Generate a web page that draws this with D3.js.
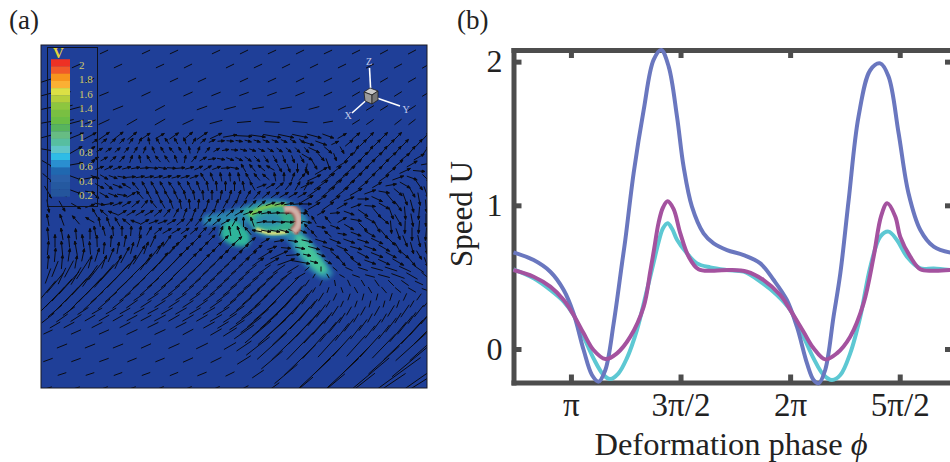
<!DOCTYPE html>
<html>
<head>
<meta charset="utf-8">
<script src="https://cdn.jsdelivr.net/npm/d3@7"></script>
<style>
  html, body { margin: 0; padding: 0; background: #fff; overflow: hidden; }
  text { font-family: "Liberation Serif", serif; }
</style>
</head>
<body>
<svg id="chart" width="950" height="462"></svg>
<script>
// Panel (b) values, phase in units of pi
const bluePhi = [0.738,0.830,0.906,0.967,1.012,1.058,1.096,1.126,1.157,1.195,1.233,1.248,1.286,1.332,1.377,1.412,1.446,1.484,1.514,1.552,1.605,1.651,1.712,1.788,1.864,1.925,1.985,2.031,2.077,2.107,2.130,2.160,2.198,2.229,2.267,2.312,2.366,2.411,2.449,2.495,2.540,2.594,2.655,2.731];
const blueU = [0.673,0.619,0.538,0.411,0.248,-0.007,-0.181,-0.227,-0.146,0.179,0.596,0.759,1.223,1.664,2.012,2.081,1.965,1.617,1.269,0.991,0.805,0.735,0.689,0.654,0.596,0.480,0.341,0.155,-0.100,-0.216,-0.239,-0.146,0.225,0.527,1.037,1.617,1.942,1.988,1.896,1.501,1.084,0.828,0.712,0.671];
const cyanPhi = [0.738,0.830,0.906,0.967,1.012,1.058,1.103,1.149,1.179,1.217,1.255,1.301,1.347,1.377,1.400,1.420,1.441,1.462,1.484,1.529,1.575,1.636,1.712,1.788,1.864,1.940,2.001,2.061,2.107,2.153,2.191,2.229,2.274,2.320,2.366,2.411,2.449,2.487,2.533,2.594,2.655,2.731];
const cyanU = [0.554,0.492,0.411,0.330,0.237,0.086,-0.065,-0.181,-0.209,-0.169,-0.065,0.132,0.411,0.600,0.745,0.840,0.875,0.835,0.760,0.666,0.596,0.568,0.550,0.538,0.469,0.376,0.271,0.086,-0.065,-0.181,-0.216,-0.181,-0.030,0.225,0.573,0.781,0.817,0.759,0.643,0.561,0.561,0.550];
const purplePhi = [0.738,0.830,0.906,0.967,1.012,1.058,1.103,1.157,1.210,1.271,1.332,1.362,1.380,1.400,1.420,1.441,1.468,1.499,1.537,1.582,1.651,1.727,1.803,1.879,1.955,2.001,2.061,2.107,2.160,2.213,2.274,2.335,2.381,2.415,2.443,2.480,2.502,2.548,2.594,2.655,2.731];
const purpleU = [0.550,0.503,0.434,0.341,0.237,0.109,-0.007,-0.070,-0.030,0.086,0.295,0.540,0.700,0.880,0.985,1.028,0.975,0.805,0.643,0.555,0.545,0.550,0.538,0.480,0.376,0.271,0.120,0.005,-0.072,-0.030,0.086,0.318,0.643,0.925,1.014,0.921,0.782,0.643,0.555,0.545,0.550];
const phiTicks = [1, 1.5, 2, 2.5];
const phiLabels = ["\u03c0", "3\u03c0/2", "2\u03c0", "5\u03c0/2"];
const speedTicks = [0, 1, 2];

// Panel (a) legend
const legendTicks = [2, 1.8, 1.6, 1.4, 1.2, 1, 0.8, 0.6, 0.4, 0.2];
const legendBands = [2.0, 1.9, 1.8, 1.7, 1.6, 1.5, 1.4, 1.3, 1.2, 1.1, 1.0, 0.9, 0.8, 0.7, 0.6, 0.5, 0.4, 0.3, 0.2];
const legendColors = ["#ee3124","#f15a29","#f7941d","#fbb034","#dce045","#b5cf3b","#8dc63f","#79bf42","#6abd45","#57b45e","#67bc83","#57bea0","#60c5c8","#2fbce6","#2a8fd0","#2068b0","#2a5fa8","#2559a0","#24559c"];

// Panel (a) coarse arrow field, one row per 14 px: angle in degrees, length in px
const fieldAngle = [
[24,24,24,24,25,25,25,25,25,25,26,26,25,25,26,26,25,25,26,26,25,25,26,28,28,28,28,28],
[20,20,24,24,25,25,25,25,25,26,26,25,25,26,26,25,25,26,26,26,26,26,28,28,28,28,30,30],
[18,18,20,22,24,25,25,25,25,25,26,25,25,25,25,25,25,25,26,26,26,28,28,28,30,30,30,32],
[15,15,16,20,22,24,25,25,25,25,24,22,22,22,20,20,20,22,22,24,25,28,30,30,30,32,32,32],
[12,15,15,18,20,22,25,28,28,25,22,20,18,15,12,10,10,10,12,15,20,28,32,32,32,34,34,36],
[10,12,15,20,25,30,30,30,30,28,25,22,15,10,5,0,-3,-5,-5,-2,10,25,32,35,35,38,38,40],
[15,18,22,28,35,38,40,35,30,35,40,35,25,10,-3,-8,-10,-12,-12,-15,-20,30,40,45,45,45,45,48],
[-10,25,30,35,40,45,60,110,120,110,70,40,20,-5,-10,-12,-15,-15,-18,-25,-40,-60,60,55,50,50,50,55],
[-30,-20,10,40,40,60,110,120,125,80,40,20,5,-12,-15,-20,-25,-30,-40,-60,-70,30,40,42,45,40,30,10],
[-40,-30,-20,10,30,30,20,5,10,15,25,20,-10,-20,120,130,-60,-80,-90,25,35,38,40,42,35,20,-20,-45],
[-60,-45,-20,-10,-30,-10,10,12,15,15,120,100,95,100,120,20,40,50,30,35,38,38,30,20,-10,-40,-60,-70],
[-80,-60,-30,20,140,120,120,115,100,90,80,70,60,50,40,30,25,20,15,30,35,30,20,-5,-30,-55,-75,-85],
[100,110,130,150,30,30,40,60,70,60,45,30,20,10,0,-10,-15,-20,-30,120,130,30,-10,-30,-40,-60,-80,-90],
[95,100,95,90,85,60,35,35,45,50,70,110,170,-10,-15,-20,-30,-45,-60,130,140,-10,-20,-30,-50,-70,-90,-95],
[85,95,100,95,85,80,75,70,60,50,45,45,45,45,40,35,20,-5,-10,-15,-20,-25,-15,-20,-30,-60,-75,-80],
[85,85,80,75,70,65,60,55,50,47,45,45,42,42,40,35,30,20,-10,-15,-30,-50,-35,-20,-25,-30,-50,-70],
[70,65,60,55,50,47,45,45,45,45,42,42,40,40,38,36,36,35,30,60,120,-30,-20,-15,-15,-20,-30,-40],
[50,48,47,46,45,44,42,40,38,38,38,38,38,38,38,40,42,45,50,60,70,-70,-60,-60,-50,-40,-30,-20],
[45,45,45,42,40,38,35,33,33,33,33,35,35,38,40,42,45,48,52,55,60,65,70,75,75,70,60,50],
[38,35,33,30,30,30,28,28,28,30,30,30,30,33,36,40,42,45,48,52,55,58,60,62,60,58,55,50],
[25,24,24,24,24,25,25,25,25,25,28,28,30,32,35,40,42,44,46,48,50,52,52,52,52,50,48,45],
[22,22,22,22,22,22,24,24,24,24,26,26,28,30,34,38,42,44,46,48,48,48,48,48,46,44,42,42],
[20,20,20,20,20,22,22,22,22,22,24,24,26,28,32,36,40,42,44,45,45,45,45,44,42,40,40,38],
[18,18,18,18,20,20,20,20,20,22,22,22,24,26,30,34,38,40,42,43,43,43,42,40,38,36,36,35],
[16,16,16,18,18,18,18,20,20,20,20,22,22,24,28,32,36,38,40,40,40,40,38,36,34,32,32,30]
];
const fieldLength = [
[0,0,0,0,9,0,0,9,0,9,0,0,9,0,9,0,9,0,9,0,9,0,9,0,9,0,9,0],
[0,0,9,0,0,9,0,0,9,0,9,0,0,9,0,9,0,9,0,9,0,9,0,9,0,9,0,9],
[20,0,0,9,0,0,9,0,0,9,0,9,0,0,9,0,9,0,9,0,9,0,9,0,9,0,9,0],
[24,18,0,0,10,0,0,10,0,0,10,0,10,0,10,0,10,0,10,0,9,0,9,9,0,9,0,9],
[26,22,14,0,0,11,0,0,11,0,0,11,0,12,0,12,0,12,0,11,0,9,0,9,9,0,9,0],
[26,24,16,12,12,0,12,0,12,0,12,0,13,0,14,0,15,0,15,0,10,0,9,9,0,9,9,0],
[20,20,16,14,13,13,12,10,10,11,12,13,13,14,16,15,18,16,16,15,12,10,10,10,10,10,0,10],
[14,16,14,12,0,0,0,0,0,0,0,0,0,0,0,0,0,0,0,12,10,8,10,10,10,10,10,10],
[14,14,14,13,0,0,0,0,0,0,0,0,0,0,0,0,0,0,0,12,12,13,14,14,14,13,12,10],
[14,14,13,12,0,0,0,0,0,0,0,0,0,0,0,0,0,0,0,15,16,16,16,14,12,12,11,10],
[14,13,12,10,0,0,0,0,0,0,0,0,0,0,0,0,0,0,0,16,17,16,14,12,11,11,12,12],
[13,12,11,10,0,0,0,0,0,0,0,0,0,0,0,0,0,0,0,14,14,12,11,11,12,12,13,13],
[12,12,11,10,0,0,0,0,0,0,0,0,0,0,0,0,0,0,0,9,9,10,11,12,12,13,13,13],
[13,12,11,11,0,0,0,0,0,0,0,0,0,0,0,0,0,0,0,9,9,9,11,12,12,12,13,13],
[14,14,14,13,12,12,12,13,14,15,16,18,16,14,12,10,10,10,10,12,12,12,12,13,13,12,12,12],
[14,14,13,13,14,15,16,20,24,24,24,22,18,16,14,14,16,18,20,8,8,10,12,12,13,13,10,10],
[16,18,20,26,30,32,32,30,30,28,20,18,16,16,14,14,14,14,12,5,5,6,8,10,12,14,13,12],
[24,30,32,34,32,26,20,16,15,15,15,15,16,18,18,20,22,22,14,6,6,6,7,7,8,8,9,9],
[26,30,24,18,16,14,14,13,13,13,13,14,15,16,20,26,30,30,26,12,8,7,7,7,7,8,8,8],
[16,14,13,12,12,12,12,12,13,13,13,13,14,16,20,28,32,34,30,20,14,12,10,10,10,12,14,16],
[10,0,11,0,11,0,12,0,12,0,12,0,13,16,24,34,38,38,34,30,26,22,18,16,18,26,32,34],
[0,11,0,11,0,11,0,11,0,12,0,13,0,14,18,30,40,40,38,34,30,28,28,30,34,40,44,44],
[10,0,10,0,10,0,10,0,10,0,11,0,12,0,16,0,28,0,44,0,40,0,38,0,42,0,52,0],
[0,9,0,9,0,9,0,9,0,9,0,10,0,10,0,14,0,30,0,46,0,46,0,50,0,56,0,60],
[8,0,8,0,8,0,8,0,8,0,8,0,8,0,10,0,18,0,34,0,44,0,48,0,52,0,56,0]
];
// Lower band, read between the coarse rows
const lowerAngle = [
[90,95,98,92,85,80,72,65,55,47,45,45,45,42,38,30,10,-8,-12,-18,-22,-20,-18,-25,-45,-68,-78],
[85,82,78,72,68,62,58,52,48,46,44,44,42,41,38,32,25,5,-12,-22,-40,-42,-28,-22,-28,-40,-60],
[68,62,57,52,48,46,45,45,45,43,42,41,40,39,37,36,35,32,40,90,-40,-25,-18,-15,-18,-25,-35],
[50,48,47,46,45,43,41,39,38,38,38,38,38,38,38,40,42,46,55,65,-80,-65,-60,-55,-45,-35,-25],
[46,46,44,41,39,36,34,33,33,33,34,35,36,39,41,43,46,50,54,58,64,70,75,75,72,65,55],
[40,36,33,30,30,29,28,28,29,30,30,30,32,35,38,41,44,47,50,54,57,60,61,61,59,56,52],
[30,28,27,27,27,27,26,26,27,27,28,29,31,33,37,41,43,45,47,49,51,53,54,54,53,51,48]
];
const lowerLength = [
[13,13,13,12,12,12,13,13,14,16,17,17,15,13,11,10,10,10,11,12,12,12,12,13,12,12,12],
[14,13,13,14,15,18,22,24,24,23,20,17,15,14,14,17,19,14,8,9,11,12,13,13,12,10,10],
[17,19,24,28,32,32,31,30,28,22,18,17,16,15,14,14,15,13,6,5,6,8,10,12,13,13,12],
[26,30,33,33,28,22,17,15,15,15,15,15,16,17,19,21,22,18,8,6,6,7,7,8,8,9,9],
[28,27,21,17,15,14,13,13,13,13,13,14,16,18,23,28,30,28,18,10,8,7,7,7,8,8,8],
[18,15,13,12,12,12,12,12,13,13,13,14,15,18,24,30,33,32,26,16,12,10,10,11,13,15,15],
[12,12,0,12,0,12,0,12,0,12,0,13,13,18,26,34,36,35,32,26,20,16,14,14,18,24,28]
];
// Right of the bubble, read between the coarse rows
const rightAngle = [
[-18,-20,25,40,45,45,46,46,48],
[-30,-50,-70,45,45,42,42,38,30],
[-70,30,38,40,42,42,38,25,-5],
[25,35,38,40,38,30,10,-30,-55],
[30,33,32,22,0,-25,-50,-70,-80],
[120,30,5,-20,-35,-50,-70,-85,-95],
[130,-10,-20,-30,-45,-60,-85,-92,-95]
];
const rightLength = [
[14,12,8,10,10,10,10,10,10],
[12,10,8,12,14,14,14,12,12],
[8,14,16,16,15,14,12,12,12],
[14,17,17,15,13,11,11,12,12],
[14,13,12,11,11,12,13,13,13],
[8,9,10,11,12,12,13,13,13],
[8,9,10,11,12,12,13,13,13]
];
// Finer table for the swirl left of the bubble, one row per 9 px
const swirlAngle = [
[35,38,40,45,55,65,100,120,125,120,110,60,40,25,5,-5,-10,-15,-18,-20,-22,-25,-30,-35],
[30,35,40,50,60,70,110,120,130,120,100,70,50,30,10,-5,-15,-20,-25,-30,-35,-40,-45,-50],
[25,30,40,50,70,100,120,130,125,110,80,50,30,10,-10,-20,-25,-35,-45,-55,-60,-70,-70,-60],
[20,25,20,15,10,5,-5,-10,-5,5,15,25,30,20,5,-10,120,130,140,150,-60,-70,-90,-100],
[-20,-30,-20,-10,5,10,10,12,15,15,15,20,120,110,100,95,100,120,130,140,100,90,70,50],
[-30,-40,-20,150,130,120,120,120,125,120,115,110,100,95,90,90,100,120,20,30,40,50,60,60],
[-40,-30,-20,-10,30,130,120,115,120,115,105,100,95,90,80,75,70,60,50,40,35,30,30,30],
[-10,10,20,30,40,50,130,120,110,100,95,85,75,70,60,55,50,45,40,20,15,10,5,0],
[120,140,160,30,30,30,30,40,50,60,70,70,60,50,45,40,30,20,15,10,5,0,0,-5],
[100,110,120,140,160,30,20,20,30,40,50,50,45,40,30,60,90,110,10,0,-5,-5,-10,-10],
[100,105,95,90,85,80,60,40,30,30,35,40,45,50,70,100,110,130,170,-10,-10,-15,-20,-25]
];
const swirlLength = [7, 7, 8, 9, 9, 10, 10, 10, 10, 10, 10];

// Speed patches around the bubble, in page px of the panel
const jetOutline = [[203,217],[225,212],[245,206],[262,200],[284,200],[300,208],[308,222],[303,232],[310,240],[318,250],[326,262],[333,274],[324,279],[310,270],[296,254],[286,239],[270,238],[256,234],[248,225],[238,222],[222,224],[204,225]];
const jetCore = [[243,211],[262,206],[282,206],[296,212],[301,222],[294,232],[282,233],[265,232],[254,228],[250,220]];
const tailCore = [[296,234],[305,238],[316,252],[327,270],[322,274],[308,262],[298,248]];
const leftBlob = [[224,224],[236,221],[250,235],[248,245],[232,245],[221,236]];
const ringHole = [[255,219],[263,214],[275,213],[282,218],[281,224],[268,227],[258,225]];
const ringTop = [[250,215],[262,208],[275,205],[286,205]];
const ringBottom = [[256,229],[270,233],[287,232]];
const bubble = [[284,209],[292,209],[298,216],[298,226],[293,232]];

// Orientation triad
const triadAxes = [
  {name: "Z", to: [369.5, 68], label: [369, 61]},
  {name: "Y", to: [400, 106], label: [406, 109]},
  {name: "X", to: [352, 113], label: [348, 115]}
];
const cubeFaces = [
  {pts: [[364,92],[370,88],[378,91],[372,95]], fill: "#c9c9c9"},
  {pts: [[364,92],[372,95],[372,104],[365,101]], fill: "#9a9a9a"},
  {pts: [[372,95],[378,91],[378,100],[372,104]], fill: "#777"}
];

const svg = d3.select("#chart");

// ---------- Panel (a) ----------
const panelA = {left: 41, right: 427, top: 45, bottom: 388};
svg.append("clipPath").attr("id", "clipA").append("rect")
    .attr("x", panelA.left).attr("y", panelA.top)
    .attr("width", panelA.right - panelA.left).attr("height", panelA.bottom - panelA.top);
svg.append("filter").attr("id", "soft").append("feGaussianBlur").attr("stdDeviation", 2);
svg.append("filter").attr("id", "softer").append("feGaussianBlur").attr("stdDeviation", 0.8);

const a = svg.append("g").attr("clip-path", "url(#clipA)");
a.append("rect")
    .attr("x", panelA.left).attr("y", panelA.top)
    .attr("width", panelA.right - panelA.left).attr("height", panelA.bottom - panelA.top)
    .attr("fill", "#1f3f98");

const closed = d3.line().curve(d3.curveCatmullRomClosed);
const open = d3.line().curve(d3.curveCatmullRom);
const patches = a.append("g").attr("filter", "url(#soft)");
patches.append("path").attr("d", closed(jetOutline)).attr("fill", "#2a86ae");
patches.append("path").attr("d", closed(jetCore)).attr("fill", "#35b08f");
patches.append("path").attr("d", closed(tailCore)).attr("fill", "#45c49a");
patches.append("path").attr("d", closed(leftBlob)).attr("fill", "#2fb59a");
patches.append("path").attr("d", closed(ringHole)).attr("fill", "#2f8fae");
const ring = a.append("g").attr("filter", "url(#softer)");
ring.append("path").attr("d", open(ringTop)).attr("fill", "none").attr("stroke", "#7ec850").attr("stroke-width", 4);
ring.append("path").attr("d", open(ringBottom)).attr("fill", "none").attr("stroke", "#dfe07a").attr("stroke-width", 3.5);

// arrows
const colX = d3.scalePoint().domain(d3.range(28)).range([48, 426]);
const rowY = d3.scalePoint().domain(d3.range(25)).range([52, 388]);
const lowerX = d3.scalePoint().domain(d3.range(27)).range([55, 419]);
const lowerY = d3.scalePoint().domain(d3.range(7)).range([241, 325]);
const rightX = d3.scalePoint().domain(d3.range(9)).range([307, 419]);
const rightY = d3.scalePoint().domain(d3.range(7)).range([143, 227]);
const swirlX = d3.scalePoint().domain(d3.range(24)).range([95, 302]);
const swirlY = d3.scalePoint().domain(d3.range(11)).range([141, 231]);

function arrowPath(cx, cy, deg, len, head) {
    const t = deg * Math.PI / 180, ux = Math.cos(t), uy = -Math.sin(t);
    const x0 = cx - ux * len / 2, y0 = cy - uy * len / 2, x1 = cx + ux * len / 2, y1 = cy + uy * len / 2;
    let d = `M${x0},${y0}L${x1},${y1}`;
    if (head) {
        const bx = x1 - ux * 3, by = y1 - uy * 3;
        d += `M${x1},${y1}L${bx - uy * 1.2},${by + ux * 1.2}L${bx + uy * 1.2},${by - ux * 1.2}Z`;
    }
    return d;
}

const arrows = [];
fieldAngle.forEach((row, j) => row.forEach((deg, i) => {
    const len = fieldLength[j][i];
    if (len > 0) arrows.push({x: colX(i), y: rowY(j), deg, len, head: j >= 6 && j <= 15});
}));
lowerAngle.forEach((row, j) => row.forEach((deg, i) => {
    const len = lowerLength[j][i];
    if (len > 0) arrows.push({x: lowerX(i), y: lowerY(j), deg, len, head: j < 2});
}));
rightAngle.forEach((row, j) => row.forEach((deg, i) => {
    arrows.push({x: rightX(i), y: rightY(j), deg, len: rightLength[j][i], head: true});
}));
swirlAngle.forEach((row, j) => row.forEach((deg, i) => {
    // every second row sits half a cell over
    arrows.push({x: swirlX(i) + (j % 2 ? 4.5 : 0), y: swirlY(j), deg, len: swirlLength[j], head: true});
}));

a.append("g").selectAll("path").data(arrows).enter().append("path")
    .attr("d", d => arrowPath(d.x, d.y, d.deg, d.len, d.head))
    .attr("fill", "#0b0b10")
    .attr("stroke", "#0b0b10")
    .attr("stroke-width", 1);

// bubble sits over the arrows
const bubbleG = a.append("g").attr("filter", "url(#softer)");
bubbleG.append("path").attr("d", open(bubble)).attr("fill", "none").attr("stroke", "#b5534a").attr("stroke-width", 9);
bubbleG.append("path").attr("d", open(bubble)).attr("fill", "none").attr("stroke", "#cfb0a8").attr("stroke-width", 5.5);

svg.append("rect")
    .attr("x", panelA.left).attr("y", panelA.top)
    .attr("width", panelA.right - panelA.left).attr("height", panelA.bottom - panelA.top)
    .attr("fill", "none").attr("stroke", "#1a1a22").attr("stroke-width", 1);

// legend
const legendY = d3.scaleLinear().domain([0.2, 2]).range([195, 65]);
const bandH = legendY(1.9) - legendY(2);
svg.append("rect").attr("x", 47.5).attr("y", 47.5).attr("width", 50).attr("height", 159)
    .attr("fill", "none").attr("stroke", "#10131f").attr("stroke-width", 1);
svg.append("g").selectAll("rect").data(legendBands).enter().append("rect")
    .attr("x", 51).attr("width", 19)
    .attr("y", d => legendY(d) - bandH * 0.8)
    .attr("height", bandH + 0.3)
    .attr("fill", (d, i) => legendColors[i]);
svg.append("g").selectAll("text").data(legendTicks).enter().append("text")
    .attr("x", 79).attr("y", d => legendY(d) + 4)
    .attr("fill", "#cfc96a").attr("font-size", 11)
    .text(d => d);
svg.append("text").attr("x", 53).attr("y", 58).attr("fill", "#e6d43c")
    .attr("font-size", 15).attr("font-weight", "bold").text("V");

// triad
const triad = svg.append("g");
triadAxes.forEach(ax => {
    triad.append("line").attr("x1", 371).attr("y1", 96).attr("x2", ax.to[0]).attr("y2", ax.to[1])
        .attr("stroke", "#fff").attr("stroke-width", 1.6);
    triad.append("text").attr("x", ax.label[0]).attr("y", ax.label[1]).attr("text-anchor", "middle")
        .attr("dy", "0.35em").attr("font-size", 10).attr("fill", "#c3cbea").text(ax.name);
});
triad.selectAll("polygon").data(cubeFaces).enter().append("polygon")
    .attr("points", d => d.pts.join(" "))
    .attr("fill", d => d.fill).attr("stroke", "#222").attr("stroke-width", 0.8);

// ---------- Panel (b) ----------
const x = d3.scaleLinear().domain([0.738, 2.743]).range([513.5, 953]);
const y = d3.scaleLinear().domain([-0.233, 2.081]).range([382.5, 50]);

const line = d3.line().x(d => x(d[0])).y(d => y(d[1])).curve(d3.curveCatmullRom.alpha(0.5));
const series = [
    {phi: cyanPhi, u: cyanU, color: "#5dc8d3"},
    {phi: bluePhi, u: blueU, color: "#6a77bf"},
    {phi: purplePhi, u: purpleU, color: "#a4529f"}
];

function styleAxis(g, size) {
    g.selectAll(".domain").attr("stroke", "#4d4d4d").attr("stroke-width", 5).attr("stroke-linecap", "square");
    g.selectAll(".tick line").attr("stroke", "#4d4d4d").attr("stroke-width", 5);
    g.selectAll("text").attr("fill", "#222").attr("font-family", "Liberation Serif").attr("font-size", size);
}

svg.append("g").attr("transform", "translate(0,382.5)")
    .call(d3.axisBottom(x).tickValues(phiTicks).tickSizeInner(-8).tickSizeOuter(0).tickPadding(10)
        .tickFormat((d, i) => phiLabels[i]))
    .call(styleAxis, 33);
svg.append("g").attr("transform", "translate(513.5,0)")
    .call(d3.axisLeft(y).tickValues(speedTicks).tickSizeInner(-8).tickSizeOuter(0).tickPadding(11).tickFormat(d3.format("d")))
    .call(styleAxis, 32);
svg.append("g").attr("transform", "translate(0,50)")
    .call(d3.axisTop(x).tickValues(phiTicks).tickSizeInner(-8).tickSizeOuter(0).tickFormat(""))
    .call(styleAxis, 32);
svg.append("g").attr("transform", "translate(953,0)")
    .call(d3.axisRight(y).tickValues(speedTicks).tickSizeInner(-8).tickSizeOuter(0).tickFormat(""))
    .call(styleAxis, 32);

series.forEach(s => {
    svg.append("path")
        .datum(s.phi.map((p, i) => [p, s.u[i]]))
        .attr("d", line)
        .attr("fill", "none")
        .attr("stroke", s.color)
        .attr("stroke-width", 4);
});

const xLabel = svg.append("text").attr("x", 731).attr("y", 455).attr("text-anchor", "middle")
    .attr("font-size", 32.5).attr("fill", "#222");
xLabel.append("tspan").text("Deformation phase ");
xLabel.append("tspan").attr("font-style", "italic").text("\u03d5");

svg.append("text").attr("transform", "translate(472,214) rotate(-90)")
    .attr("text-anchor", "middle").attr("font-size", 31).attr("fill", "#222").text("Speed U");

svg.append("text").attr("x", 9).attr("y", 29).attr("font-size", 27).attr("fill", "#222").text("(a)");
svg.append("text").attr("x", 457).attr("y", 29).attr("font-size", 27).attr("fill", "#222").text("(b)");
</script>
</body>
</html>
